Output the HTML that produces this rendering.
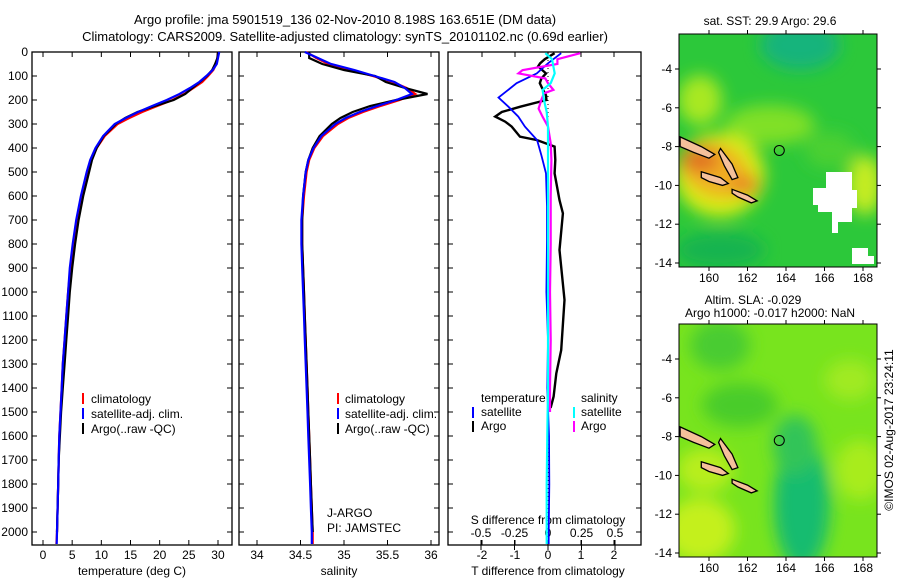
<!DOCTYPE html>
<html><head><meta charset="utf-8"><style>
body{margin:0;background:#fff;}
svg{display:block;font-family:"Liberation Sans",sans-serif;}
text{fill:#000;}
</style></head><body>
<svg id="fig" width="900" height="580" viewBox="0 0 900 580">
<defs>
<filter id="bl" x="-50%" y="-50%" width="200%" height="200%"><feGaussianBlur stdDeviation="8"/></filter>
<clipPath id="m1c"><rect x="679" y="34" width="198" height="233"/></clipPath>
<clipPath id="m2c"><rect x="679" y="324" width="198" height="233"/></clipPath>
</defs>
<text x="345" y="24" font-size="13" text-anchor="middle">Argo profile: jma 5901519_136 02-Nov-2010 8.198S 163.651E (DM data)</text>
<text x="345" y="41" font-size="13" text-anchor="middle">Climatology: CARS2009. Satellite-adjusted climatology: synTS_20101102.nc (0.69d earlier)</text>

<g id="map1" clip-path="url(#m1c)">
<rect x="679" y="34" width="198" height="233" fill="#2cc83a"/>
<g filter="url(#bl)">
<ellipse cx="800" cy="45" rx="40" ry="25" fill="#12b47c"/>
<ellipse cx="700" cy="100" rx="22" ry="25" fill="#a8e822"/>
<ellipse cx="770" cy="125" rx="45" ry="20" fill="#80e028"/>
<ellipse cx="720" cy="175" rx="45" ry="42" fill="#d8ec18"/>
<ellipse cx="715" cy="170" rx="36" ry="26" fill="#f0b020" transform="rotate(25 715 170)"/>
<ellipse cx="700" cy="160" rx="20" ry="12" fill="#e07020"/>
<ellipse cx="745" cy="185" rx="14" ry="10" fill="#e88020"/>
<ellipse cx="865" cy="185" rx="18" ry="30" fill="#c4ec20"/>
<ellipse cx="830" cy="150" rx="25" ry="18" fill="#4cd030"/>
<ellipse cx="720" cy="250" rx="45" ry="18" fill="#14b450"/>
</g>
<polygon points="813,188 826,188 826,172 852,172 852,190 857,190 857,208 852,208 852,222 838,222 838,233 832,233 832,212 818,212 818,205 813,205" fill="#fff"/>
<polygon points="852,248 868,248 868,256 874,256 874,264 852,264" fill="#fff"/>
</g>
<g id="map2" clip-path="url(#m2c)">
<rect x="679" y="324" width="198" height="233" fill="#78e41e"/>
<g filter="url(#bl)">
<ellipse cx="720" cy="345" rx="30" ry="25" fill="#48cc30"/>
<ellipse cx="740" cy="405" rx="38" ry="22" fill="#48cc2c"/>
<ellipse cx="802" cy="505" rx="28" ry="65" fill="#18bc70"/>
<ellipse cx="795" cy="445" rx="22" ry="30" fill="#30c458"/>
<ellipse cx="700" cy="530" rx="35" ry="32" fill="#c4f01c"/>
<ellipse cx="705" cy="470" rx="28" ry="22" fill="#b8ee1e"/>
<ellipse cx="860" cy="470" rx="25" ry="30" fill="#a8ec1e"/>
<ellipse cx="850" cy="380" rx="25" ry="20" fill="#a0ea20"/>
</g>
</g>
<g id="islands"></g>
<text x="770" y="25" font-size="12" text-anchor="middle">sat. SST: 29.9 Argo: 29.6</text>
<text x="753" y="304" font-size="12" text-anchor="middle">Altim. SLA: -0.029</text>
<text x="770" y="317" font-size="12" text-anchor="middle">Argo h1000: -0.017 h2000: NaN</text>
<text transform="translate(893,430) rotate(-90)" font-size="12" text-anchor="middle">©IMOS 02-Aug-2017 23:24:11</text>

<g id="p1"></g><g id="p2"></g><g id="p3"></g>

<g font-size="12">
<rect x="82" y="393" width="2" height="11" fill="#f00"/><text x="91" y="403">climatology</text>
<rect x="82" y="408" width="2" height="11" fill="#00f"/><text x="91" y="418">satellite-adj. clim.</text>
<rect x="82" y="423" width="2" height="11" fill="#000"/><text x="91" y="433">Argo(..raw -QC)</text>
</g>
<g font-size="12">
<rect x="337" y="393" width="2" height="11" fill="#f00"/><text x="345" y="403">climatology</text>
<rect x="337" y="408" width="2" height="11" fill="#00f"/><text x="345" y="418">satellite-adj. clim.</text>
<rect x="337" y="423" width="2" height="11" fill="#000"/><text x="345" y="433">Argo(..raw -QC)</text>
</g>
<text x="327" y="517" font-size="12">J-ARGO</text>
<text x="327" y="532" font-size="12">PI: JAMSTEC</text>
<g font-size="12">
<text x="481" y="402">temperature</text>
<rect x="472" y="407" width="2" height="11" fill="#00f"/><text x="481" y="416">satellite</text>
<rect x="472" y="421" width="2" height="11" fill="#000"/><text x="481" y="430">Argo</text>
<text x="581" y="402">salinity</text>
<rect x="573" y="407" width="2" height="11" fill="#0ff"/><text x="581" y="416">satellite</text>
<rect x="573" y="421" width="2" height="11" fill="#f0f"/><text x="581" y="430">Argo</text>
</g>
</svg>
<script>
// ---- data ----
const depths = [0,25,50,75,100,125,150,175,200,225,250,275,300,350,400,450,500,600,700,800,900,1000,1100,1200,1300,1400,1500,1600,1700,1800,1900,2000,2050];
const tempClim = [30.0,29.9,29.7,29.2,28.3,27.3,25.8,24.2,22.2,19.6,17.0,14.8,12.8,10.6,9.2,8.3,7.6,6.6,5.8,5.2,4.7,4.3,4.0,3.7,3.4,3.2,3.0,2.8,2.7,2.6,2.5,2.4,2.3];
const tempSat = [30.2,30.0,29.8,29.1,28.0,26.8,25.2,23.4,21.2,18.7,16.3,14.2,12.3,10.3,9.0,8.1,7.5,6.5,5.7,5.1,4.6,4.3,4.0,3.7,3.4,3.2,3.0,2.8,2.7,2.6,2.5,2.4,2.35];
const tempArgo = [30.0,29.9,29.5,29.0,28.1,26.9,25.6,24.4,22.4,19.2,16.2,14.1,12.5,10.4,9.2,8.4,7.9,6.9,6.1,5.5,5.0,4.6,4.3,4.0,3.7,3.4,3.1,2.9,2.7,2.6,2.5,2.4];
const salClim = [34.57,34.68,34.82,35.08,35.33,35.56,35.72,35.82,35.64,35.42,35.22,35.05,34.93,34.76,34.66,34.60,34.57,34.54,34.52,34.52,34.53,34.54,34.55,34.56,34.57,34.58,34.59,34.60,34.61,34.62,34.63,34.64,34.64];
const salSat = [34.55,34.70,34.85,35.12,35.35,35.58,35.70,35.78,35.60,35.38,35.18,35.02,34.90,34.74,34.65,34.59,34.56,34.53,34.51,34.51,34.52,34.53,34.54,34.55,34.56,34.57,34.58,34.59,34.60,34.61,34.62,34.63,34.63];
const salArgo = [34.60,34.60,34.75,35.00,35.36,35.48,35.70,35.96,35.60,35.30,35.10,34.96,34.86,34.72,34.64,34.59,34.56,34.53,34.52,34.52,34.53,34.54,34.55,34.56,34.57,34.58,34.59,34.60,34.61,34.62,34.63,34.64];
const dTdepths = [5,30,47,60,89,110,130,158,180,200,228,250,269,290,311,353,367,394,450,506,617,672,825,1033,1242,1339,1436,1483];
const dTArgo = [0.2,-0.1,-0.24,-0.3,-0.06,-0.2,-0.25,-0.15,-0.06,-0.05,-0.84,-1.4,-1.6,-1.3,-1.1,-0.85,-0.33,0.2,0.22,0.2,0.35,0.45,0.35,0.5,0.4,0.25,0.17,0.08];
const dTsDepths = [5,47,89,130,190,228,269,311,367,431,506,644,783,1000,1200,1400,1600,1800,2000,2050];
const dTSat = [0.4,0.0,-0.34,-0.95,-1.5,-1.2,-0.9,-0.7,-0.33,-0.2,-0.06,-0.03,-0.03,-0.05,0.0,-0.02,0.03,0.04,0.02,0.02];
const dSdepths = [5,30,50,76,89,110,130,158,172,200,236,270,311,380,450,600,800,1000,1200,1400,1500];
const dSArgo = [0.24,0.07,0.07,-0.19,-0.22,-0.02,0.0,0.04,-0.03,-0.05,-0.07,-0.04,0.0,0.02,0.025,0.02,0.02,0.015,0.02,0.015,0.015];
const dSsDepths = [5,30,89,130,158,200,250,311,400,600,800,1000,1200,1400,1600,1800,2000,2050];
const dSSat = [-0.02,0.03,0.05,0.02,-0.04,-0.03,-0.01,0.0,0.0,0.0,0.0,0.0,0.0,0.0,-0.005,-0.01,-0.01,-0.01];
const depthTicks = [0,100,200,300,400,500,600,700,800,900,1000,1100,1200,1300,1400,1500,1600,1700,1800,1900,2000];
const tempTicks = [0,5,10,15,20,25,30];
const salTicks = [34,34.5,35,35.5,36];
const dTTicks = [-2,-1,0,1,2];
const dSTicks = [-0.5,-0.25,0,0.25,0.5];
const dSTickLabels = ['-0.5','-0.25','0','0.25','0.5'];
const lonTicks = [160,162,164,166,168];
const latTicks = [-4,-6,-8,-10,-12,-14];
const argoLon = 163.651, argoLat = -8.198;

// ---- axes ----
const NS='http://www.w3.org/2000/svg';
const yTop=52, yBot=545;
const yD = d => 52 + d*0.24;
const xT = t => 43 + t*5.833;
const xS = s => 257 + (s-34)*87;
const xDT = v => 548 + v*33;
const xDS = v => 548 + v*134;
const mx = lon => 709 + (lon-160)*19.25;
const my = (lat,off) => 69 + off + (-4-lat)*19.4;
function el(tag, attrs, parent){const e=document.createElementNS(NS,tag);for(const k in attrs)e.setAttribute(k,attrs[k]);parent.appendChild(e);return e;}
function frame(g,x0,x1,y0,y1){el('rect',{x:x0,y:y0,width:x1-x0,height:y1-y0,fill:'none',stroke:'#000','stroke-width':1.3},g);}
function line(g,xs,ds,xf,color,w){
  const pts=xs.map((v,i)=>xf(v).toFixed(1)+','+yD(ds[i]).toFixed(1)).join(' ');
  return el('polyline',{points:pts,fill:'none',stroke:color,'stroke-width':w,'stroke-linejoin':'miter'},g);
}
function yticks(g,x0,x1,labels){
  depthTicks.forEach(d=>{
    el('line',{x1:x0,y1:yD(d),x2:x0+5,y2:yD(d),stroke:'#000'},g);
    el('line',{x1:x1,y1:yD(d),x2:x1-5,y2:yD(d),stroke:'#000'},g);
    if(labels){const t=el('text',{x:x0-4,y:yD(d)+4,'font-size':12,'text-anchor':'end'},g);t.textContent=d;
      
      }
  });
}
function xticks(g,ticks,xf,labs,y0,y1,ly){
  ticks.forEach((v,i)=>{
    el('line',{x1:xf(v),y1:y1,x2:xf(v),y2:y1-5,stroke:'#000'},g);
    el('line',{x1:xf(v),y1:y0,x2:xf(v),y2:y0+5,stroke:'#000'},g);
    if(labs){const t=el('text',{x:xf(v),y:ly,'font-size':12,'text-anchor':'middle'},g);t.textContent=labs[i];
      
      }
  });
}
// panel 1
const p1=document.getElementById('p1');


frame(p1,32,232,yTop,yBot); yticks(p1,32,232,true); xticks(p1,tempTicks,xT,tempTicks,yTop,yBot,559);
let tx=el('text',{x:132,y:575,'font-size':12,'text-anchor':'middle'},p1);tx.textContent='temperature (deg C)';


let l;
l=line(p1,tempClim,depths,xT,'#f00',2.2);


l=line(p1,tempArgo,depths,xT,'#000',2.2);


l=line(p1,tempSat,depths,xT,'#00f',2.2);


// panel 2
const p2=document.getElementById('p2');


frame(p2,239,439,yTop,yBot); yticks(p2,239,439,false); xticks(p2,salTicks,xS,salTicks,yTop,yBot,559);
tx=el('text',{x:339,y:575,'font-size':12,'text-anchor':'middle'},p2);tx.textContent='salinity';


l=line(p2,salClim,depths,xS,'#f00',2.2);


l=line(p2,salArgo,depths,xS,'#000',2.2);


l=line(p2,salSat,depths,xS,'#00f',2.2);


// panel 3
const p3=document.getElementById('p3');


frame(p3,448,641,yTop,yBot); yticks(p3,448,641,false); xticks(p3,dTTicks,xDT,dTTicks,yTop,yBot,559);
xticks(p3,dSTicks,xDS,dSTickLabels,yBot,yBot,537);
el('line',{x1:548,y1:yTop,x2:548,y2:yBot,stroke:'#000','stroke-dasharray':'1,3'},p3);
tx=el('text',{x:548,y:524,'font-size':12,'text-anchor':'middle'},p3);tx.textContent='S difference from climatology';


tx=el('text',{x:548,y:575,'font-size':12,'text-anchor':'middle'},p3);tx.textContent='T difference from climatology';


l=line(p3,dTArgo,dTdepths,xDT,'#000',2.4);


l=line(p3,dTSat,dTsDepths,xDT,'#00f',1.8);


l=line(p3,dSArgo,dSdepths,xDS,'#f0f',2.2);


l=line(p3,dSSat,dSsDepths,xDS,'#0ff',2.2);


// maps
const isl=document.getElementById('islands');
const islandShapes=[
 [[158.5,-7.5],[159.6,-8.0],[160.3,-8.4],[160.0,-8.6],[159.2,-8.3],[158.5,-8.0]],
 [[160.6,-8.1],[161.2,-8.9],[161.5,-9.6],[161.2,-9.7],[160.8,-9.0],[160.5,-8.3]],
 [[159.6,-9.3],[160.6,-9.6],[161.0,-9.9],[160.7,-10.0],[160.0,-9.8],[159.6,-9.6]],
 [[161.2,-10.2],[162.0,-10.5],[162.5,-10.8],[162.2,-10.9],[161.5,-10.6],[161.2,-10.4]]
];
[0,290].forEach(off=>{
  const g=el('g',{},isl);
  islandShapes.forEach(s=>{
    const p=el('polygon',{points:s.map(q=>mx(q[0]).toFixed(1)+','+my(q[1],off).toFixed(1)).join(' '),fill:'#f5c09a',stroke:'#000','stroke-width':1.3},g);
    
    
  });
  const c=el('circle',{cx:mx(argoLon),cy:my(argoLat,off),r:5,fill:'none',stroke:'#000','stroke-width':1},g);
  
  
  const y0=34+off,y1=267+off;
  el('rect',{x:679,y:y0,width:198,height:233,fill:'none',stroke:'#000','stroke-width':1},g);
  lonTicks.forEach(v=>{
    el('line',{x1:mx(v),y1:y0,x2:mx(v),y2:y0-4,stroke:'#000'},g);
    el('line',{x1:mx(v),y1:y1,x2:mx(v),y2:y1+4,stroke:'#000'},g);
    const tt=el('text',{x:mx(v),y:y1+15,'font-size':12,'text-anchor':'middle'},g);tt.textContent=v;
    
    
  });
  latTicks.forEach(v=>{
    el('line',{x1:679,y1:my(v,off),x2:675,y2:my(v,off),stroke:'#000'},g);
    el('line',{x1:877,y1:my(v,off),x2:881,y2:my(v,off),stroke:'#000'},g);
    const tt=el('text',{x:672,y:my(v,off)+4,'font-size':12,'text-anchor':'end'},g);tt.textContent=v;
    
    
  });
});
</script>
</body></html>
